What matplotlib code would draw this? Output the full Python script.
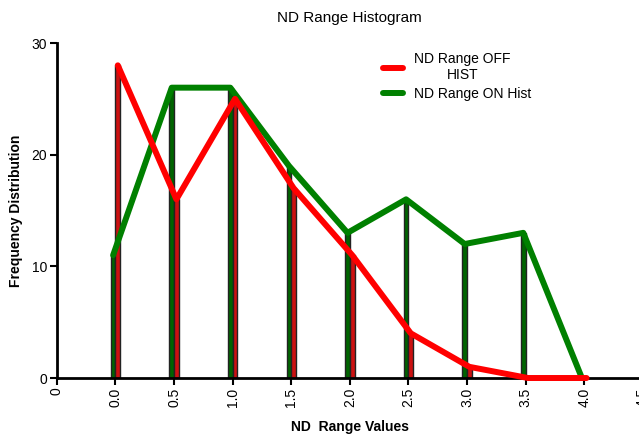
import matplotlib
matplotlib.use("Agg")
import matplotlib.pyplot as plt
import numpy as np

plt.rcParams['font.family'] = ['Liberation Sans', 'DejaVu Sans']

# Bin centres and counts
bins = [0.0, 0.5, 1.0, 1.5, 2.0, 2.5, 3.0, 3.5, 4.0]
off_hist = [28, 16, 25, 17, 11, 4, 1, 0, 0]
on_hist = [11, 26, 26, 19, 13, 16, 12, 13, 0]

tick_pos = [-0.5, 0.0, 0.5, 1.0, 1.5, 2.0, 2.5, 3.0, 3.5, 4.0, 4.5]
tick_labels = ["0", "0.0", "0.5", "1.0", "1.5", "2.0", "2.5", "3.0", "3.5", "4.0", "4.5"]
y_ticks = [0, 10, 20, 30]

fig = plt.figure(figsize=(6.39, 4.37), dpi=100)
ax = fig.add_axes([0.089, 0.135, 0.917, 0.7666])

x = np.array(bins)
bw = 0.04
ax.bar(x - bw / 2, on_hist, width=bw, color="#006400", edgecolor="#222222",
       linewidth=1.0, zorder=2)
ax.bar(x + bw / 2, off_hist, width=bw, color="#cc1111", edgecolor="#222222",
       linewidth=1.0, zorder=2)

ax.plot(x + bw / 2, off_hist, color="#ff0000", lw=4.3, solid_capstyle="round",
        solid_joinstyle="round", zorder=4, clip_on=False, label="ND Range OFF\nHIST")
ax.plot(x - bw / 2, on_hist, color="#008000", lw=4.3, solid_capstyle="round",
        solid_joinstyle="round", zorder=3, clip_on=False, label="ND Range ON Hist")

ax.set_xlim(-0.5, 4.5)
ax.set_ylim(0, 30)
ax.set_xticks(tick_pos)
ax.set_xticklabels(tick_labels, rotation=90, fontsize=10)
ax.set_yticks(y_ticks)
ax.tick_params(axis="both", direction="out", length=5, width=1.5, labelsize=10, pad=2)

for s in ["top", "right"]:
    ax.spines[s].set_visible(False)
for s in ["left", "bottom"]:
    ax.spines[s].set_linewidth(2)

ax.set_title("ND Range Histogram", fontsize=11, pad=15)
ax.set_xlabel("ND  Range Values", fontsize=10, fontweight="bold", labelpad=9)
ax.set_ylabel("Frequency Distribution", fontsize=10, fontweight="bold", labelpad=6)

leg = ax.legend(loc="upper left", bbox_to_anchor=(0.535, 1.01), frameon=False,
                fontsize=10, handlelength=1.45, handletextpad=0.8, labelspacing=0.3)
for t in leg.get_texts():
    t.set_multialignment("center")

fig.savefig("out.png", dpi=100)
